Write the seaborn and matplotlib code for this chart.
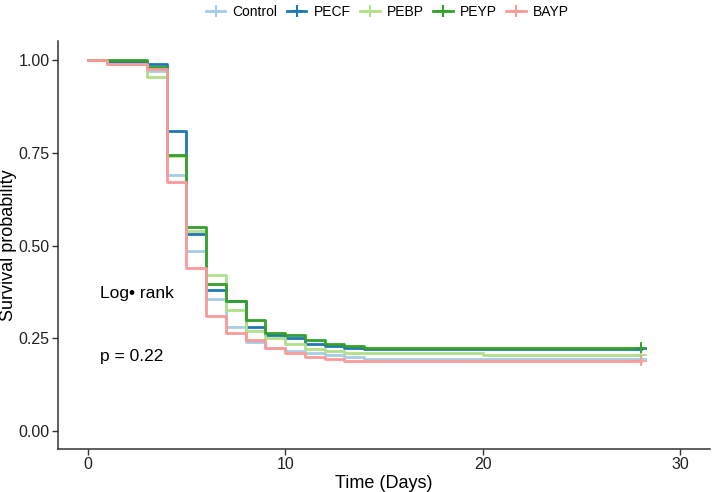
import pandas as pd
import numpy as np
import matplotlib.pyplot as plt
import seaborn as sns
from matplotlib.lines import Line2D

# Survival step values (time in days)
days = [0, 1, 3, 4, 5, 6, 7, 8, 9, 10, 11, 12, 13, 14, 20, 28]
control = [1.0, 0.99, 0.97, 0.69, 0.485, 0.355, 0.28, 0.24, 0.225, 0.215, 0.21, 0.205, 0.20, 0.195, 0.195, 0.195]
pecf = [1.0, 0.995, 0.99, 0.81, 0.53, 0.38, 0.35, 0.28, 0.26, 0.25, 0.235, 0.23, 0.225, 0.22, 0.22, 0.22]
pebp = [1.0, 0.99, 0.955, 0.74, 0.54, 0.42, 0.325, 0.27, 0.25, 0.235, 0.22, 0.215, 0.21, 0.21, 0.205, 0.205]
peyp = [1.0, 1.0, 0.98, 0.745, 0.55, 0.395, 0.35, 0.30, 0.265, 0.26, 0.245, 0.235, 0.23, 0.225, 0.225, 0.225]
bayp = [1.0, 0.99, 0.975, 0.67, 0.44, 0.31, 0.265, 0.245, 0.225, 0.21, 0.20, 0.195, 0.19, 0.19, 0.19, 0.19]

groups = ['Control', 'PECF', 'PEBP', 'PEYP', 'BAYP']
colors = ['#A6CEE3', '#1F78B4', '#B2DF8A', '#33A02C', '#FB9A99']

df = pd.concat([
    pd.DataFrame({'time': days, 'surv': vals, 'group': g})
    for g, vals in zip(groups, [control, pecf, pebp, peyp, bayp])
])

plt.rcParams['font.family'] = ['Liberation Sans', 'DejaVu Sans']
fig = plt.figure(figsize=(7.12, 4.92), dpi=100)
ax = fig.add_axes([0.0815, 0.0874, 0.9155, 0.8283])

palette = dict(zip(groups, colors))
sns.lineplot(data=df, x='time', y='surv', hue='group', palette=palette,
             estimator=None, sort=False, drawstyle='steps-post',
             linewidth=2, ax=ax, legend=False)

# censor marks at the end of follow-up
last = df[df['time'] == 28]
sns.scatterplot(data=last, x='time', y='surv', hue='group', palette=palette,
                marker='+', s=70, linewidth=1.3, ax=ax, legend=False, zorder=5)

ax.text(0.6, 0.37, 'Log\u2022 rank', fontsize=12.5, va='center')
ax.text(0.6, 0.2, 'p = 0.22', fontsize=12.5, va='center')

ax.set_xlim(-1.5, 31.5)
ax.set_ylim(-0.0485, 1.05)
ax.set_xticks([0, 10, 20, 30])
ax.set_yticks([0, 0.25, 0.5, 0.75, 1.0])
ax.set_yticklabels(['0.00', '0.25', '0.50', '0.75', '1.00'])
ax.set_xlabel('Time (Days)', fontsize=13, labelpad=2)
ax.set_ylabel('Survival probability', fontsize=13, labelpad=1)
ax.tick_params(labelsize=11.5, length=4, width=1, pad=2, colors='#333333', labelcolor='#222222')
for side in ['top', 'right']:
    ax.spines[side].set_visible(False)
for side in ['left', 'bottom']:
    ax.spines[side].set_color('#333333')
    ax.spines[side].set_linewidth(1.1)

handles = [Line2D([0], [0], color=c, lw=2, marker='+', markersize=8, markeredgewidth=1.5)
           for c in colors]
fig.legend(handles, groups, loc='upper center', bbox_to_anchor=(0.544, 1.015), ncol=5,
           frameon=False, fontsize=10, handlelength=1.4, columnspacing=0.7, handletextpad=0.5)

fig.savefig('out.png', dpi=100)
